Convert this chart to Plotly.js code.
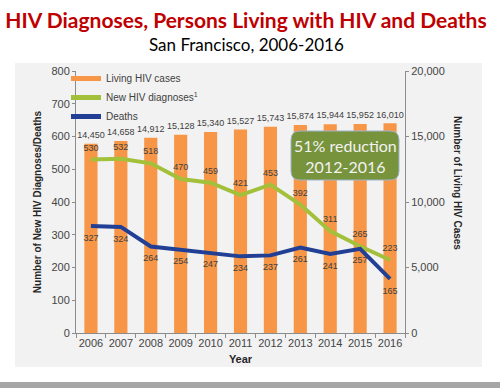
<!DOCTYPE html>
<html>
<head>
<meta charset="utf-8">
<script src="https://cdn.plot.ly/plotly-3.0.1.min.js"></script>
<style>
html,body{margin:0;padding:0;background:#fff;}
#chart{width:500px;height:388px;}
</style>
</head>
<body>
<div id="chart"></div>
<script>
// ---- data ----
var years = ['2006','2007','2008','2009','2010','2011','2012','2013','2014','2015','2016'];
var livingCases = [14450,14658,14912,15128,15340,15527,15743,15874,15944,15952,16010];
var newDiagnoses = [530,532,518,470,459,421,453,392,311,265,223];
var deaths = [327,324,264,254,247,234,237,261,241,257,165];

var W = 500, H = 388;
var M = {l:76, r:95, t:71, b:55};
var pw = W - M.l - M.r, ph = H - M.t - M.b;
function px(x){ return (x - M.l) / pw; }
function py(y){ return (H - M.b - y) / ph; }

function roundRect(x0,y0,x1,y1,r){
  var rx = r / pw, ry = r / ph;
  var X0 = px(x0), X1 = px(x1), Y0 = py(y1), Y1 = py(y0);
  return 'M' + (X0+rx) + ',' + Y1 +
    ' L' + (X1-rx) + ',' + Y1 +
    ' Q' + X1 + ',' + Y1 + ' ' + X1 + ',' + (Y1-ry) +
    ' L' + X1 + ',' + (Y0+ry) +
    ' Q' + X1 + ',' + Y0 + ' ' + (X1-rx) + ',' + Y0 +
    ' L' + (X0+rx) + ',' + Y0 +
    ' Q' + X0 + ',' + Y0 + ' ' + X0 + ',' + (Y0+ry) +
    ' L' + X0 + ',' + (Y1-ry) +
    ' Q' + X0 + ',' + Y1 + ' ' + (X0+rx) + ',' + Y1 + ' Z';
}

var ORANGE = '#F79646', GREEN = '#A3C03A', BLUE = '#203F95';
var tickFont = {family:'Liberation Sans, Arial, sans-serif', size:11, color:'#454545'};
var lblFont = {family:'Liberation Sans, Arial, sans-serif', size:9, color:'#404040'};
var legFont = {family:'Liberation Sans, Arial, sans-serif', size:10, color:'#404040'};

var traces = [
  {
    type:'bar', x:years, y:livingCases, yaxis:'y',
    marker:{color:ORANGE}, width:0.44,
    showlegend:false, hoverinfo:'x+y'
  },
  {
    type:'scatter', mode:'markers+text', x:years, y:livingCases, yaxis:'y',
    marker:{size:4, opacity:0},
    text: livingCases.map(function(v){return v.toLocaleString('en-US');}),
    textposition:'top center', textfont:lblFont, cliponaxis:false,
    showlegend:false, hoverinfo:'skip'
  },
  {
    type:'scatter', mode:'lines+markers+text', x:years, y:newDiagnoses, yaxis:'y2',
    line:{color:GREEN, width:4}, marker:{size:9, opacity:0, color:GREEN},
    text:newDiagnoses.map(String),
    textposition:'top center', textfont:lblFont, cliponaxis:false,
    showlegend:false
  },
  {
    type:'scatter', mode:'lines+markers+text', x:years, y:deaths, yaxis:'y2',
    line:{color:BLUE, width:4}, marker:{size:11, opacity:0, color:BLUE},
    text:deaths.map(String),
    textposition:'bottom center', textfont:lblFont, cliponaxis:false,
    showlegend:false
  },
  // legend entries
  {type:'scatter', mode:'lines', x:[null], y:[null], yaxis:'y2', name:'Living HIV cases', line:{color:ORANGE, width:5}},
  {type:'scatter', mode:'lines', x:[null], y:[null], yaxis:'y2', name:'New HIV diagnoses<sup>1</sup>', line:{color:GREEN, width:5}},
  {type:'scatter', mode:'lines', x:[null], y:[null], yaxis:'y2', name:'Deaths', line:{color:BLUE, width:5}}
];

var axisBase = {
  showgrid:false, zeroline:false, showline:true, linecolor:'#8c8c8c', linewidth:1,
  ticks:'outside', tickcolor:'#8c8c8c', ticklen:4, tickfont:tickFont
};

var layout = {
  width:W, height:H, margin:M,
  paper_bgcolor:'#ffffff', plot_bgcolor:'rgba(0,0,0,0)',
  showlegend:true,
  legend:{x:px(66), y:py(64), xanchor:'left', yanchor:'top', bgcolor:'rgba(0,0,0,0)',
          font:legFont, tracegroupgap:0, itemwidth:30},
  title:{
    text:'HIV Diagnoses, Persons Living with HIV and Deaths',
    font:{family:'Lato, sans-serif', size:21, color:'#C00000', weight:'bold'},
    xref:'container', yref:'container', x:246/W, y:1-21/H, xanchor:'center', yanchor:'middle'
  },
  xaxis: Object.assign({}, axisBase, {
    type:'category', tickson:'boundaries', range:[-0.5,10.5], tickangle:0,
    title:{text:'<b>Year</b>', font:{family:'Liberation Sans, Arial, sans-serif', size:11, color:'#262626'}, standoff:7}
  }),
  yaxis: Object.assign({}, axisBase, {
    side:'right', range:[0,20000], dtick:5000, tickformat:',d', ticklen:3
  }),
  yaxis2: Object.assign({}, axisBase, {
    side:'left', overlaying:'y', range:[0,800], dtick:100, ticklen:3,
    title:{text:'<b>Number of New HIV Diagnoses/Deaths</b>', font:{family:'Liberation Sans, Arial, sans-serif', size:10, color:'#262626'}, standoff:7}
  }),
  bargap:0.56,
  shapes:[
    {type:'rect', xref:'paper', yref:'paper', x0:px(15), x1:px(482), y0:py(367), y1:py(63),
     fillcolor:'#F2F2F2', line:{width:0}, layer:'below'},
    {type:'rect', xref:'paper', yref:'paper', x0:px(0), x1:px(500), y0:py(388), y1:py(382),
     fillcolor:'#A6A6A6', line:{width:0}, layer:'below'},
    {type:'path', xref:'paper', yref:'paper', path:roundRect(291,131,399,180,9),
     fillcolor:'#77933C', line:{color:'#9FB3C8', width:1}, layer:'above'}
  ],
  annotations:[
    {text:'San Francisco, 2006-2016', xref:'paper', yref:'paper', x:px(246), y:py(45),
     xanchor:'center', yanchor:'middle', showarrow:false,
     font:{family:'Lato, sans-serif', size:17, color:'#000000'}},
    {text:'<b>Number of Living HIV Cases</b>', xref:'paper', yref:'paper', x:px(458), y:py(183),
     xanchor:'center', yanchor:'middle', showarrow:false, textangle:90,
     font:{family:'Liberation Sans, Arial, sans-serif', size:10, color:'#262626'}},
    {text:'51% reduction<br>2012-2016', xref:'paper', yref:'paper', x:px(345), y:py(156),
     xanchor:'center', yanchor:'middle', showarrow:false,
     font:{family:'Lato, sans-serif', size:16, color:'#F2F2F2'}}
  ]
};

Plotly.newPlot('chart', traces, layout, {displayModeBar:false, staticPlot:true});
</script>
</body>
</html>
